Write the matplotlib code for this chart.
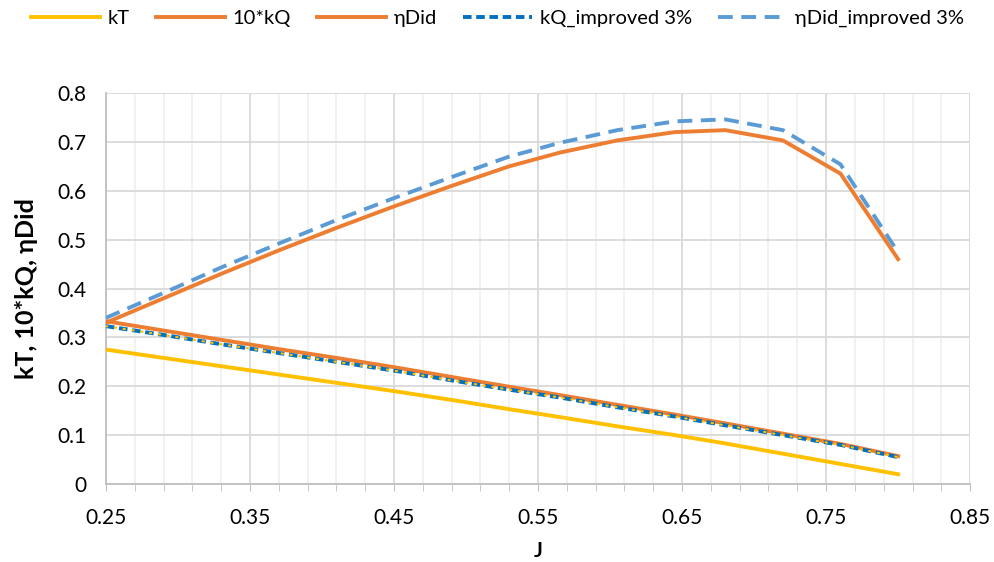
import matplotlib
matplotlib.use("Agg")
import matplotlib.pyplot as plt
from matplotlib.ticker import MultipleLocator, FormatStrFormatter
import numpy as np

plt.rcParams['font.family'] = ['Lato', 'DejaVu Sans']

J = [0.25, 0.29, 0.33, 0.37, 0.41, 0.45, 0.49, 0.53, 0.565, 0.605, 0.645, 0.68, 0.72, 0.76, 0.80]
kT = [0.275, 0.258, 0.241, 0.224, 0.207, 0.190, 0.172, 0.153, 0.137, 0.118, 0.100, 0.083, 0.062, 0.041, 0.020]
kQ10 = [0.333, 0.314, 0.295, 0.276, 0.258, 0.239, 0.219, 0.199, 0.182, 0.162, 0.142, 0.124, 0.103, 0.082, 0.057]
etaDid = [0.330, 0.380, 0.430, 0.478, 0.524, 0.568, 0.610, 0.650, 0.678, 0.703, 0.720, 0.724, 0.703, 0.635, 0.460]
kQ_improved = [0.323, 0.305, 0.286, 0.268, 0.250, 0.232, 0.212, 0.193, 0.177, 0.157, 0.138, 0.120, 0.100, 0.080, 0.055]
etaDid_improved = [0.340, 0.391, 0.443, 0.492, 0.540, 0.585, 0.628, 0.670, 0.698, 0.724, 0.742, 0.746, 0.724, 0.654, 0.474]

fig = plt.figure(figsize=(9.95, 5.62), dpi=100)
ax = fig.add_axes([0.1065, 0.1388, 0.8685, 0.6957])

lw = 2.8
l1, = ax.plot(J, kT, color='#FFC000', lw=lw, label='kT', zorder=3)
l2, = ax.plot(J, kQ10, color='#ED7D31', lw=lw, label='10*kQ', zorder=3)
l3, = ax.plot(J, etaDid, color='#ED7D31', lw=lw, label='ηDid', zorder=3)
l4, = ax.plot(J, kQ_improved, color='#0070C0', lw=lw, dashes=(2.2, 1.2), label='kQ_improved 3%', zorder=4)
ax.plot(J, kQ_improved, color='#FFC000', lw=1.6, dashes=(0.6, 3.4), dash_capstyle='round', zorder=5)
l5, = ax.plot(J, etaDid_improved, color='#5B9BD5', lw=lw, dashes=(3.8, 2.2), label='ηDid_improved 3%', zorder=4)

ax.set_xlim(0.25, 0.85)
ax.set_ylim(0, 0.8)
ax.set_xticks(np.round(np.arange(0.25, 0.851, 0.1), 2))
ax.set_xticks(np.round(np.arange(0.25, 0.851, 0.02), 2), minor=True)
ax.xaxis.set_major_formatter(FormatStrFormatter('%.2f'))
ax.yaxis.set_major_locator(MultipleLocator(0.1))
ax.yaxis.set_major_formatter(matplotlib.ticker.FuncFormatter(lambda v, p: '0' if abs(v) < 1e-9 else f'{v:.1f}'))

ax.grid(which='major', axis='both', color='#D9D9D9', lw=1.3, zorder=0)
ax.grid(which='minor', axis='x', color='#F0F0F0', lw=1.3, zorder=0)
ax.set_axisbelow(True)

for s in ['top', 'right']:
    ax.spines[s].set_visible(False)
for s in ['left', 'bottom']:
    ax.spines[s].set_color('#BFBFBF')
    ax.spines[s].set_linewidth(1.3)

ax.tick_params(axis='x', which='both', length=5, color='#BFBFBF', labelsize=15, labelcolor='#000000', pad=12)
ax.tick_params(axis='y', which='both', length=0, labelsize=15, pad=14)

ax.set_xlabel('J', fontsize=15, fontweight='bold', labelpad=10)
ax.set_ylabel('kT, 10*kQ, ηDid', fontsize=18, fontweight='bold', labelpad=14)

fig.legend(handles=[l1, l2, l3, l4, l5], loc='upper center', bbox_to_anchor=(0.5, 1.015),
           ncol=5, frameon=False, fontsize=14.5, handlelength=3.4, columnspacing=1.3,
           handletextpad=0.4)

fig.savefig('out.png', dpi=100)
